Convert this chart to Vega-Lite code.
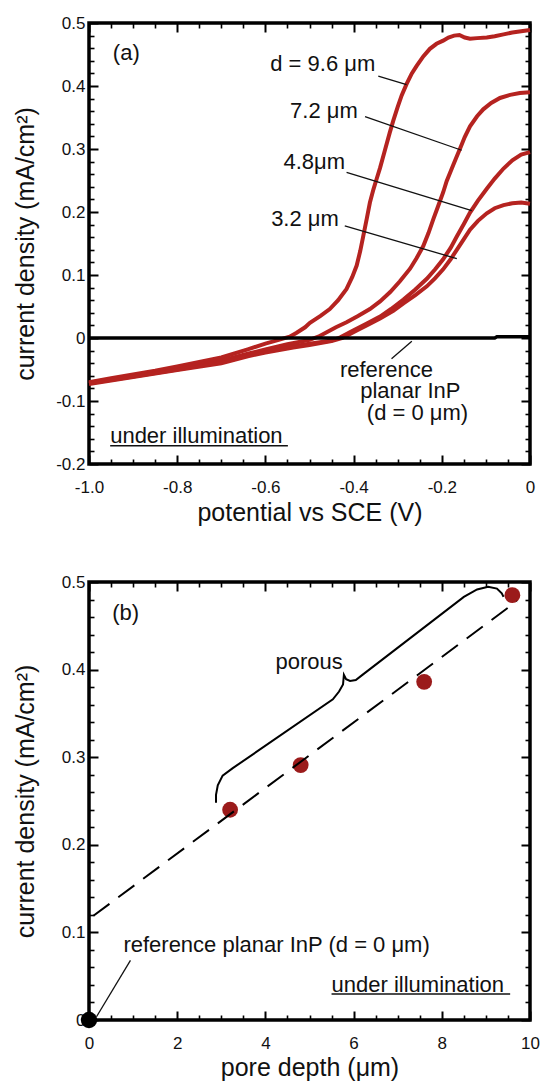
{
  "$schema": "https://vega.github.io/schema/vega-lite/v6.json",
  "padding": {"left": 11, "top": 12, "right": 5, "bottom": 3},
  "spacing": 118,
  "bounds": "flush",
  "config": {
    "view": {"stroke": "black", "strokeWidth": 3.5},
    "font": "Liberation Sans",
    "axis": {
      "domain": false, "grid": false, "ticks": true, "zindex": 1,
      "labelFont": "Liberation Sans", "labelFontSize": 17, "labelColor": "#111",
      "titleFont": "Liberation Sans", "titleFontSize": 25, "titleFontWeight": "normal", "titleColor": "#111",
      "tickColor": "black", "tickOpacity": 1, "labelOverlap": false, "labelFlush": false
    }
  },
  "vconcat": [
    {
      "width": 441, "height": 441,
      "layer": [
        {
          "data": {"values": [
            {"c":"9.6","E":-1.0,"j":-0.070},{"c":"9.6","E":-0.95,"j":-0.064},{"c":"9.6","E":-0.9,"j":-0.058},{"c":"9.6","E":-0.85,"j":-0.052},{"c":"9.6","E":-0.8,"j":-0.045},{"c":"9.6","E":-0.75,"j":-0.038},{"c":"9.6","E":-0.7,"j":-0.031},{"c":"9.6","E":-0.64,"j":-0.018},{"c":"9.6","E":-0.6,"j":-0.009},{"c":"9.6","E":-0.57,"j":-0.003},{"c":"9.6","E":-0.545,"j":0.002},{"c":"9.6","E":-0.53,"j":0.008},{"c":"9.6","E":-0.51,"j":0.017},{"c":"9.6","E":-0.499,"j":0.024},{"c":"9.6","E":-0.475,"j":0.035},{"c":"9.6","E":-0.454,"j":0.046},{"c":"9.6","E":-0.435,"j":0.060},{"c":"9.6","E":-0.416,"j":0.078},{"c":"9.6","E":-0.403,"j":0.097},{"c":"9.6","E":-0.393,"j":0.115},{"c":"9.6","E":-0.385,"j":0.138},{"c":"9.6","E":-0.378,"j":0.162},{"c":"9.6","E":-0.370,"j":0.190},{"c":"9.6","E":-0.363,"j":0.215},{"c":"9.6","E":-0.355,"j":0.236},{"c":"9.6","E":-0.348,"j":0.252},{"c":"9.6","E":-0.340,"j":0.270},{"c":"9.6","E":-0.329,"j":0.298},{"c":"9.6","E":-0.318,"j":0.326},{"c":"9.6","E":-0.310,"j":0.345},{"c":"9.6","E":-0.300,"j":0.367},{"c":"9.6","E":-0.291,"j":0.385},{"c":"9.6","E":-0.280,"j":0.403},{"c":"9.6","E":-0.268,"j":0.420},{"c":"9.6","E":-0.257,"j":0.432},{"c":"9.6","E":-0.242,"j":0.447},{"c":"9.6","E":-0.227,"j":0.459},{"c":"9.6","E":-0.212,"j":0.467},{"c":"9.6","E":-0.197,"j":0.472},{"c":"9.6","E":-0.185,"j":0.477},{"c":"9.6","E":-0.172,"j":0.480},{"c":"9.6","E":-0.160,"j":0.481},{"c":"9.6","E":-0.148,"j":0.477},{"c":"9.6","E":-0.136,"j":0.475},{"c":"9.6","E":-0.120,"j":0.476},{"c":"9.6","E":-0.098,"j":0.477},{"c":"9.6","E":-0.080,"j":0.479},{"c":"9.6","E":-0.060,"j":0.482},{"c":"9.6","E":-0.040,"j":0.485},{"c":"9.6","E":-0.020,"j":0.487},{"c":"9.6","E":0.0,"j":0.489},
            {"c":"7.2","E":-1.0,"j":-0.071},{"c":"7.2","E":-0.9,"j":-0.060},{"c":"7.2","E":-0.8,"j":-0.048},{"c":"7.2","E":-0.7,"j":-0.036},{"c":"7.2","E":-0.64,"j":-0.025},{"c":"7.2","E":-0.6,"j":-0.018},{"c":"7.2","E":-0.55,"j":-0.010},{"c":"7.2","E":-0.5,"j":-0.003},{"c":"7.2","E":-0.48,"j":0.002},{"c":"7.2","E":-0.461,"j":0.009},{"c":"7.2","E":-0.44,"j":0.017},{"c":"7.2","E":-0.416,"j":0.025},{"c":"7.2","E":-0.39,"j":0.035},{"c":"7.2","E":-0.363,"j":0.046},{"c":"7.2","E":-0.34,"j":0.058},{"c":"7.2","E":-0.317,"j":0.073},{"c":"7.2","E":-0.295,"j":0.090},{"c":"7.2","E":-0.272,"j":0.110},{"c":"7.2","E":-0.257,"j":0.127},{"c":"7.2","E":-0.242,"j":0.146},{"c":"7.2","E":-0.230,"j":0.167},{"c":"7.2","E":-0.219,"j":0.189},{"c":"7.2","E":-0.208,"j":0.210},{"c":"7.2","E":-0.197,"j":0.231},{"c":"7.2","E":-0.189,"j":0.249},{"c":"7.2","E":-0.178,"j":0.268},{"c":"7.2","E":-0.168,"j":0.285},{"c":"7.2","E":-0.159,"j":0.300},{"c":"7.2","E":-0.148,"j":0.319},{"c":"7.2","E":-0.136,"j":0.336},{"c":"7.2","E":-0.120,"j":0.352},{"c":"7.2","E":-0.106,"j":0.363},{"c":"7.2","E":-0.088,"j":0.373},{"c":"7.2","E":-0.068,"j":0.381},{"c":"7.2","E":-0.045,"j":0.386},{"c":"7.2","E":-0.023,"j":0.389},{"c":"7.2","E":0.0,"j":0.390},
            {"c":"4.8","E":-1.0,"j":-0.072},{"c":"4.8","E":-0.9,"j":-0.061},{"c":"4.8","E":-0.8,"j":-0.050},{"c":"4.8","E":-0.7,"j":-0.038},{"c":"4.8","E":-0.64,"j":-0.027},{"c":"4.8","E":-0.6,"j":-0.021},{"c":"4.8","E":-0.537,"j":-0.013},{"c":"4.8","E":-0.5,"j":-0.009},{"c":"4.8","E":-0.45,"j":-0.004},{"c":"4.8","E":-0.43,"j":0.001},{"c":"4.8","E":-0.401,"j":0.012},{"c":"4.8","E":-0.37,"j":0.023},{"c":"4.8","E":-0.340,"j":0.034},{"c":"4.8","E":-0.315,"j":0.046},{"c":"4.8","E":-0.287,"j":0.061},{"c":"4.8","E":-0.26,"j":0.077},{"c":"4.8","E":-0.234,"j":0.094},{"c":"4.8","E":-0.215,"j":0.109},{"c":"4.8","E":-0.197,"j":0.125},{"c":"4.8","E":-0.180,"j":0.143},{"c":"4.8","E":-0.166,"j":0.161},{"c":"4.8","E":-0.150,"j":0.181},{"c":"4.8","E":-0.136,"j":0.199},{"c":"4.8","E":-0.118,"j":0.218},{"c":"4.8","E":-0.098,"j":0.237},{"c":"4.8","E":-0.080,"j":0.253},{"c":"4.8","E":-0.060,"j":0.269},{"c":"4.8","E":-0.040,"j":0.282},{"c":"4.8","E":-0.020,"j":0.291},{"c":"4.8","E":0.0,"j":0.295},
            {"c":"3.2","E":-1.0,"j":-0.073},{"c":"3.2","E":-0.9,"j":-0.062},{"c":"3.2","E":-0.8,"j":-0.051},{"c":"3.2","E":-0.7,"j":-0.040},{"c":"3.2","E":-0.64,"j":-0.029},{"c":"3.2","E":-0.6,"j":-0.023},{"c":"3.2","E":-0.537,"j":-0.015},{"c":"3.2","E":-0.5,"j":-0.011},{"c":"3.2","E":-0.45,"j":-0.005},{"c":"3.2","E":-0.425,"j":0.0},{"c":"3.2","E":-0.393,"j":0.012},{"c":"3.2","E":-0.365,"j":0.022},{"c":"3.2","E":-0.340,"j":0.031},{"c":"3.2","E":-0.31,"j":0.043},{"c":"3.2","E":-0.287,"j":0.055},{"c":"3.2","E":-0.26,"j":0.068},{"c":"3.2","E":-0.234,"j":0.082},{"c":"3.2","E":-0.215,"j":0.095},{"c":"3.2","E":-0.197,"j":0.109},{"c":"3.2","E":-0.180,"j":0.125},{"c":"3.2","E":-0.166,"j":0.140},{"c":"3.2","E":-0.150,"j":0.157},{"c":"3.2","E":-0.136,"j":0.172},{"c":"3.2","E":-0.118,"j":0.186},{"c":"3.2","E":-0.098,"j":0.198},{"c":"3.2","E":-0.080,"j":0.206},{"c":"3.2","E":-0.060,"j":0.211},{"c":"3.2","E":-0.040,"j":0.214},{"c":"3.2","E":-0.020,"j":0.215},{"c":"3.2","E":0.0,"j":0.213}
          ]},
          "mark": {"type": "line", "color": "#b52320", "strokeWidth": 4},
          "encoding": {
            "x": {"field": "E", "type": "quantitative",
              "scale": {"domain": [-1, 0], "nice": false, "zero": false},
              "axis": {"orient": "bottom", "title": "potential vs SCE (V)",
                "values": [-1,-0.95,-0.9,-0.85,-0.8,-0.75,-0.7,-0.65,-0.6,-0.55,-0.5,-0.45,-0.4,-0.35,-0.3,-0.25,-0.2,-0.15,-0.1,-0.05,0],
                "labelExpr": "abs(datum.value*5 - round(datum.value*5)) < 0.001 ? (abs(datum.value) < 0.001 ? '0' : (datum.value < 0 ? '-' : '') + format(abs(datum.value), '.1f')) : ''",
                "tickSize": {"condition": {"test": "abs(datum.value*5 - round(datum.value*5)) < 0.001", "value": -9}, "value": -5},
                "tickWidth": {"condition": {"test": "abs(datum.value*5 - round(datum.value*5)) < 0.001", "value": 2}, "value": 1.6},
                "labelPadding": 24, "titleY": 48, "titleBaseline": "middle"}},
            "y": {"field": "j", "type": "quantitative",
              "scale": {"domain": [-0.2, 0.5], "nice": false, "zero": false},
              "axis": {"orient": "left", "title": "current density (mA/cm²)",
                "values": [-0.2,-0.18,-0.16,-0.14,-0.12,-0.1,-0.08,-0.06,-0.04,-0.02,0,0.02,0.04,0.06,0.08,0.1,0.12,0.14,0.16,0.18,0.2,0.22,0.24,0.26,0.28,0.3,0.32,0.34,0.36,0.38,0.4,0.42,0.44,0.46,0.48,0.5],
                "labelExpr": "abs(datum.value*10 - round(datum.value*10)) < 0.001 ? (abs(datum.value) < 0.001 ? '0' : (datum.value < 0 ? '-' : '') + format(abs(datum.value), '.1f')) : ''",
                "tickSize": {"condition": {"test": "abs(datum.value*10 - round(datum.value*10)) < 0.001", "value": -9}, "value": -5},
                "tickWidth": {"condition": {"test": "abs(datum.value*10 - round(datum.value*10)) < 0.001", "value": 2}, "value": 1.6},
                "labelPadding": 13, "titleX": -64, "titleBaseline": "middle"}},
            "detail": {"field": "c"}
          }
        },
        {
          "data": {"values": [{"E":-1,"j":0},{"E":-0.08,"j":0},{"E":-0.075,"j":0.002},{"E":0,"j":0.002}]},
          "mark": {"type": "line", "color": "black", "strokeWidth": 3.5},
          "encoding": {
            "x": {"field": "E", "type": "quantitative",
              "axis": {"orient": "top", "title": null, "labels": false,
                "values": [-1,-0.95,-0.9,-0.85,-0.8,-0.75,-0.7,-0.65,-0.6,-0.55,-0.5,-0.45,-0.4,-0.35,-0.3,-0.25,-0.2,-0.15,-0.1,-0.05,0],
                "tickSize": {"condition": {"test": "abs(datum.value*5 - round(datum.value*5)) < 0.001", "value": -9}, "value": -5},
                "tickWidth": {"condition": {"test": "abs(datum.value*5 - round(datum.value*5)) < 0.001", "value": 2}, "value": 1.6}}},
            "y": {"field": "j", "type": "quantitative",
              "axis": {"orient": "right", "title": null, "labels": false,
                "values": [-0.2,-0.18,-0.16,-0.14,-0.12,-0.1,-0.08,-0.06,-0.04,-0.02,0,0.02,0.04,0.06,0.08,0.1,0.12,0.14,0.16,0.18,0.2,0.22,0.24,0.26,0.28,0.3,0.32,0.34,0.36,0.38,0.4,0.42,0.44,0.46,0.48,0.5],
                "tickSize": {"condition": {"test": "abs(datum.value*10 - round(datum.value*10)) < 0.001", "value": -9}, "value": -5},
                "tickWidth": {"condition": {"test": "abs(datum.value*10 - round(datum.value*10)) < 0.001", "value": 2}, "value": 1.6}}}
          }
        },
        {
          "data": {"values": [
            {"x1":-0.344,"y1":0.4155,"x2":-0.280,"y2":0.402},
            {"x1":-0.374,"y1":0.3514,"x2":-0.155,"y2":0.298},
            {"x1":-0.416,"y1":0.263,"x2":-0.132,"y2":0.202},
            {"x1":-0.420,"y1":0.178,"x2":-0.166,"y2":0.126},
            {"x1":-0.314,"y1":-0.033,"x2":-0.268,"y2":-0.005}
          ]},
          "mark": {"type": "rule", "color": "#111", "strokeWidth": 1.3},
          "encoding": {
            "x": {"field": "x1", "type": "quantitative", "axis": null},
            "y": {"field": "y1", "type": "quantitative", "axis": null},
            "x2": {"field": "x2"}, "y2": {"field": "y2"}
          }
        },
        {
          "data": {"values": [
            {"t":"(a)","x":-0.946,"y":0.441},
            {"t":"d = 9.6 μm","x":-0.589,"y":0.4236},
            {"t":"7.2 μm","x":-0.544,"y":0.350},
            {"t":"4.8μm","x":-0.559,"y":0.269},
            {"t":"3.2 μm","x":-0.587,"y":0.178},
            {"t":"reference","x":-0.431,"y":-0.0614},
            {"t":"planar InP","x":-0.385,"y":-0.096},
            {"t":"(d = 0 μm)","x":-0.370,"y":-0.130},
            {"t":"under illumination","x":-0.952,"y":-0.166}
          ]},
          "mark": {"type": "text", "align": "left", "baseline": "alphabetic", "fontSize": 22, "font": "Liberation Sans", "color": "#111"},
          "encoding": {
            "x": {"field": "x", "type": "quantitative", "axis": null},
            "y": {"field": "y", "type": "quantitative", "axis": null},
            "text": {"field": "t"}
          }
        },
        {
          "data": {"values": [{"x1":-0.952,"x2":-0.549,"y":-0.171}]},
          "mark": {"type": "rule", "color": "#111", "strokeWidth": 1.3},
          "encoding": {
            "x": {"field": "x1", "type": "quantitative", "axis": null},
            "x2": {"field": "x2"},
            "y": {"field": "y", "type": "quantitative", "axis": null}
          }
        }
      ],
      "resolve": {"axis": {"x": "independent", "y": "independent"}}
    },
    {
      "width": 441, "height": 438,
      "layer": [
        {
          "data": {"values": [{"d":3.2,"j":0.240},{"d":4.8,"j":0.291},{"d":7.6,"j":0.386},{"d":9.6,"j":0.485}]},
          "mark": {"type": "circle", "color": "#9b1b1b", "size": 250, "opacity": 1},
          "encoding": {
            "x": {"field": "d", "type": "quantitative",
              "scale": {"domain": [0, 10], "nice": false},
              "axis": {"orient": "bottom", "title": "pore depth (μm)",
                "values": [0,0.5,1,1.5,2,2.5,3,3.5,4,4.5,5,5.5,6,6.5,7,7.5,8,8.5,9,9.5,10],
                "labelExpr": "abs(datum.value/2 - round(datum.value/2)) < 0.001 ? format(datum.value, 'd') : ''",
                "tickSize": {"condition": {"test": "abs(datum.value/2 - round(datum.value/2)) < 0.001", "value": -9}, "value": -5},
                "tickWidth": {"condition": {"test": "abs(datum.value/2 - round(datum.value/2)) < 0.001", "value": 2}, "value": 1.6},
                "labelPadding": 24, "titleY": 47, "titleBaseline": "middle"}},
            "y": {"field": "j", "type": "quantitative",
              "scale": {"domain": [0, 0.5], "nice": false},
              "axis": {"orient": "left", "title": "current density (mA/cm²)",
                "values": [0,0.02,0.04,0.06,0.08,0.1,0.12,0.14,0.16,0.18,0.2,0.22,0.24,0.26,0.28,0.3,0.32,0.34,0.36,0.38,0.4,0.42,0.44,0.46,0.48,0.5],
                "labelExpr": "abs(datum.value*10 - round(datum.value*10)) < 0.001 ? (abs(datum.value) < 0.001 ? '0' : format(datum.value, '.1f')) : ''",
                "tickSize": {"condition": {"test": "abs(datum.value*10 - round(datum.value*10)) < 0.001", "value": -9}, "value": -5},
                "tickWidth": {"condition": {"test": "abs(datum.value*10 - round(datum.value*10)) < 0.001", "value": 2}, "value": 1.6},
                "labelPadding": 13, "titleX": -64, "titleBaseline": "middle"}}
          }
        },
        {
          "data": {"values": [{"d":0.1,"j":0.119},{"d":9.7,"j":0.478}]},
          "mark": {"type": "line", "color": "black", "strokeWidth": 2, "strokeDash": [20, 11]},
          "encoding": {
            "x": {"field": "d", "type": "quantitative",
              "axis": {"orient": "top", "title": null, "labels": false,
                "values": [0,0.5,1,1.5,2,2.5,3,3.5,4,4.5,5,5.5,6,6.5,7,7.5,8,8.5,9,9.5,10],
                "tickSize": {"condition": {"test": "abs(datum.value/2 - round(datum.value/2)) < 0.001", "value": -9}, "value": -5},
                "tickWidth": {"condition": {"test": "abs(datum.value/2 - round(datum.value/2)) < 0.001", "value": 2}, "value": 1.6}}},
            "y": {"field": "j", "type": "quantitative",
              "axis": {"orient": "right", "title": null, "labels": false,
                "values": [0,0.02,0.04,0.06,0.08,0.1,0.12,0.14,0.16,0.18,0.2,0.22,0.24,0.26,0.28,0.3,0.32,0.34,0.36,0.38,0.4,0.42,0.44,0.46,0.48,0.5],
                "tickSize": {"condition": {"test": "abs(datum.value*10 - round(datum.value*10)) < 0.001", "value": -9}, "value": -5},
                "tickWidth": {"condition": {"test": "abs(datum.value*10 - round(datum.value*10)) < 0.001", "value": 2}, "value": 1.6}}}
          }
        },
        {
          "data": {"values": [{"d":0,"j":0}]},
          "mark": {"type": "circle", "color": "black", "size": 270, "opacity": 1},
          "encoding": {
            "x": {"field": "d", "type": "quantitative", "axis": null},
            "y": {"field": "j", "type": "quantitative", "axis": null}
          }
        },
        {
          "data": {"values": [
            {"i":1,"d":2.88,"j":0.248},{"i":2,"d":2.88,"j":0.257},{"i":3,"d":2.92,"j":0.268},{"i":4,"d":3.03,"j":0.279},{"i":5,"d":3.26,"j":0.2875},
            {"i":6,"d":5.53,"j":0.366},{"i":7,"d":5.67,"j":0.375},{"i":8,"d":5.76,"j":0.383},{"i":9,"d":5.78,"j":0.394},{"i":10,"d":5.83,"j":0.389},
            {"i":11,"d":5.92,"j":0.387},{"i":12,"d":6.05,"j":0.388},{"i":13,"d":6.20,"j":0.394},{"i":14,"d":8.50,"j":0.483},{"i":15,"d":8.80,"j":0.4915},
            {"i":16,"d":9.05,"j":0.4945},{"i":17,"d":9.25,"j":0.4925},{"i":18,"d":9.36,"j":0.487},{"i":19,"d":9.40,"j":0.483}
          ]},
          "mark": {"type": "line", "color": "black", "strokeWidth": 2},
          "encoding": {
            "x": {"field": "d", "type": "quantitative", "axis": null},
            "y": {"field": "j", "type": "quantitative", "axis": null},
            "order": {"field": "i"}
          }
        },
        {
          "data": {"values": [{"x1":0.94,"y1":0.068,"x2":0.17,"y2":0.0037}]},
          "mark": {"type": "rule", "color": "#111", "strokeWidth": 1.3},
          "encoding": {
            "x": {"field": "x1", "type": "quantitative", "axis": null},
            "y": {"field": "y1", "type": "quantitative", "axis": null},
            "x2": {"field": "x2"}, "y2": {"field": "y2"}
          }
        },
        {
          "data": {"values": [
            {"t":"(b)","x":0.526,"y":0.457},
            {"t":"porous","x":4.23,"y":0.4007},
            {"t":"reference planar InP (d = 0 μm)","x":0.78,"y":0.078},
            {"t":"under illumination","x":5.5,"y":0.0325}
          ]},
          "mark": {"type": "text", "align": "left", "baseline": "alphabetic", "fontSize": 22, "font": "Liberation Sans", "color": "#111"},
          "encoding": {
            "x": {"field": "x", "type": "quantitative", "axis": null},
            "y": {"field": "y", "type": "quantitative", "axis": null},
            "text": {"field": "t"}
          }
        },
        {
          "data": {"values": [{"x1":5.5,"x2":9.55,"y":0.0297}]},
          "mark": {"type": "rule", "color": "#111", "strokeWidth": 1.3},
          "encoding": {
            "x": {"field": "x1", "type": "quantitative", "axis": null},
            "x2": {"field": "x2"},
            "y": {"field": "y", "type": "quantitative", "axis": null}
          }
        }
      ],
      "resolve": {"axis": {"x": "independent", "y": "independent"}}
    }
  ]
}
